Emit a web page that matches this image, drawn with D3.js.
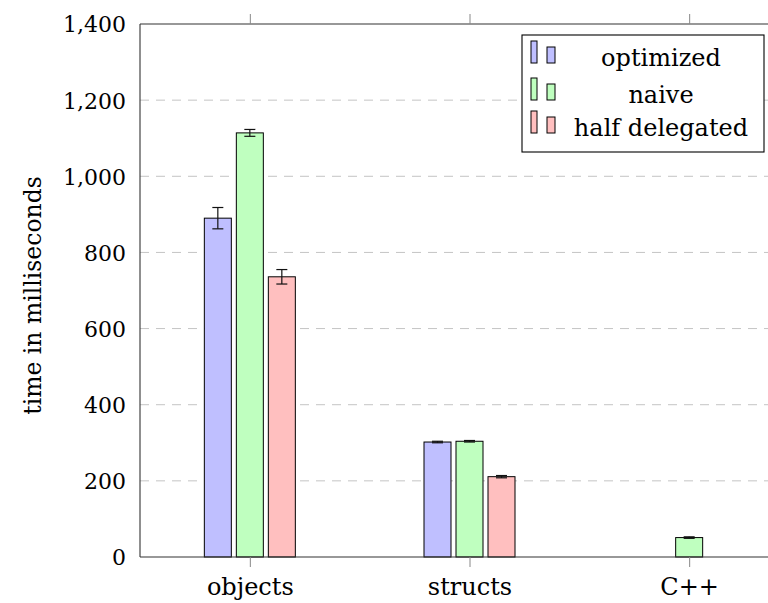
<!DOCTYPE html>
<html>
<head>
<meta charset="utf-8">
<script src="https://cdn.jsdelivr.net/npm/d3@7"></script>
<style>
  html, body { margin: 0; padding: 0; background: #fff; }
  svg { display: block; }
  text { font-family: "DejaVu Serif", serif; fill: #000; }
</style>
</head>
<body>
<svg id="chart" width="768" height="603"></svg>
<script>
// Benchmark timings (ms) per data layout and implementation
const categories = ["objects", "structs", "C++"];
const seriesNames = ["optimized", "naive", "half delegated"];
const optimizedValues = [890, 302, null];
const optimizedErrors = [28, 2, null];
const naiveValues = [1114, 304, 51];
const naiveErrors = [9, 2, 2];
const halfDelegatedValues = [736, 211, null];
const halfDelegatedErrors = [19, 3, null];
const yTicks = [0, 200, 400, 600, 800, 1000, 1200, 1400];

const fills = ["#bfbfff", "#bfffbf", "#ffbfbf"];
const series = [
  { name: seriesNames[0], values: optimizedValues, errors: optimizedErrors, fill: fills[0] },
  { name: seriesNames[1], values: naiveValues, errors: naiveErrors, fill: fills[1] },
  { name: seriesNames[2], values: halfDelegatedValues, errors: halfDelegatedErrors, fill: fills[2] }
];

const svg = d3.select("#chart");
const plotLeft = 140, plotRight = 799, plotTop = 24, plotBottom = 557;

const x = d3.scalePoint().domain(categories).range([plotLeft, plotRight]).padding(0.5);
const y = d3.scaleLinear().domain([0, 1400]).range([plotBottom, plotTop]);
const offset = d3.scalePoint().domain(seriesNames).range([-32, 32]);
const barW = 27;

// dashed horizontal grid
svg.append("g")
  .selectAll("line")
  .data(yTicks.filter(t => t > 0 && t < 1400))
  .join("line")
  .attr("x1", plotLeft).attr("x2", plotRight)
  .attr("y1", d => y(d)).attr("y2", d => y(d))
  .attr("stroke", "#c4c4c4")
  .attr("stroke-width", 1)
  .attr("stroke-dasharray", "9,7");

// bars
const barG = svg.append("g");
series.forEach(s => {
  const rows = categories.map((c, i) => ({ c, v: s.values[i], e: s.errors[i] })).filter(d => d.v != null);
  barG.selectAll(null)
    .data(rows)
    .join("rect")
    .attr("x", d => x(d.c) + offset(s.name) - barW / 2)
    .attr("y", d => y(d.v))
    .attr("width", barW)
    .attr("height", d => y(0) - y(d.v))
    .attr("fill", s.fill)
    .attr("stroke", "#000")
    .attr("stroke-width", 1);

  // error bars
  const eg = barG.selectAll(null).data(rows).join("g")
    .attr("stroke", "#111").attr("stroke-width", 1.2);
  eg.append("line")
    .attr("x1", d => x(d.c) + offset(s.name)).attr("x2", d => x(d.c) + offset(s.name))
    .attr("y1", d => y(d.v + d.e)).attr("y2", d => y(d.v - d.e));
  eg.append("line")
    .attr("x1", d => x(d.c) + offset(s.name) - 5.5).attr("x2", d => x(d.c) + offset(s.name) + 5.5)
    .attr("y1", d => y(d.v + d.e)).attr("y2", d => y(d.v + d.e));
  eg.append("line")
    .attr("x1", d => x(d.c) + offset(s.name) - 5.5).attr("x2", d => x(d.c) + offset(s.name) + 5.5)
    .attr("y1", d => y(d.v - d.e)).attr("y2", d => y(d.v - d.e));
});

// frame
const frame = svg.append("g").attr("stroke", "#333").attr("stroke-width", 1.1);
frame.append("line").attr("x1", plotLeft).attr("x2", plotLeft).attr("y1", plotTop).attr("y2", plotBottom);
frame.append("line").attr("x1", plotLeft).attr("x2", plotRight).attr("y1", plotTop).attr("y2", plotTop);
frame.append("line").attr("x1", plotLeft).attr("x2", plotRight).attr("y1", plotBottom).attr("y2", plotBottom);

// x axis (bottom) with outward ticks, top mirror ticks
const xAxis = svg.append("g")
  .attr("transform", `translate(0,${plotBottom})`)
  .call(d3.axisBottom(x).tickSize(10).tickPadding(11));
xAxis.select(".domain").remove();
xAxis.selectAll(".tick line").attr("stroke", "#888");
xAxis.selectAll(".tick text")
  .style("font-size", "24px")
  .attr("dy", "0.71em");

const xTop = svg.append("g")
  .attr("transform", `translate(0,${plotTop})`)
  .call(d3.axisTop(x).tickSize(10).tickFormat(""));
xTop.select(".domain").remove();
xTop.selectAll(".tick line").attr("stroke", "#888");

// y axis labels
const yAxis = svg.append("g")
  .attr("transform", `translate(${plotLeft},0)`)
  .call(d3.axisLeft(y).tickValues(yTicks).tickSize(0).tickPadding(14).tickFormat(d3.format(",")));
yAxis.select(".domain").remove();
yAxis.selectAll(".tick text")
  .style("font-size", "22px")
  .attr("dy", "0.36em");

// y axis title
svg.append("text")
  .attr("transform", `translate(41,${(plotTop + plotBottom) / 2 + 5}) rotate(-90)`)
  .attr("text-anchor", "middle")
  .style("font-size", "23.5px")
  .text("time in milliseconds");

// legend
const lg = svg.append("g").attr("transform", "translate(522,35)");
lg.append("rect").attr("width", 242).attr("height", 117)
  .attr("fill", "#fff").attr("stroke", "#000").attr("stroke-width", 1.1);
const baselines = [31, 68, 101];
series.forEach((s, i) => {
  const b = baselines[i];
  lg.append("rect").attr("x", 9).attr("y", b - 25).attr("width", 6).attr("height", 22)
    .attr("fill", s.fill).attr("stroke", "#000").attr("stroke-width", 1);
  lg.append("rect").attr("x", 25).attr("y", b - 19).attr("width", 8).attr("height", 16)
    .attr("fill", s.fill).attr("stroke", "#000").attr("stroke-width", 1);
  lg.append("text")
    .attr("x", 139).attr("y", b)
    .attr("text-anchor", "middle")
    .style("font-size", "24px")
    .text(s.name);
});
</script>
</body>
</html>
